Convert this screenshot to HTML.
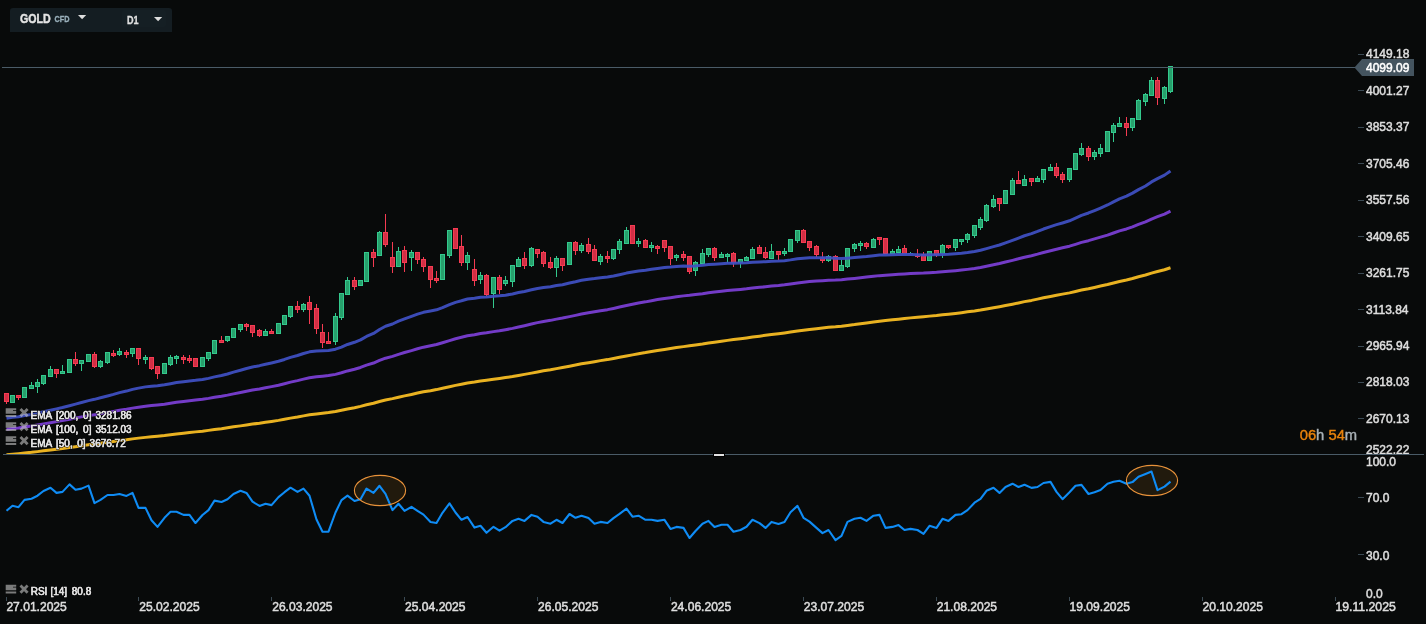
<!DOCTYPE html>
<html lang="en"><head><meta charset="utf-8"><title>GOLD CFD D1</title>
<style>
html,body{margin:0;padding:0;background:#080a0a;overflow:hidden}
body{width:1426px;height:624px;position:relative;font-family:"Liberation Sans",sans-serif}
svg{position:absolute;left:0;top:0;display:block;will-change:transform}
text{font-family:"Liberation Sans",sans-serif}
.ax{font-size:12px;fill:#dedede;stroke:#dedede;stroke-width:.5px}
.lg{font-size:10px;fill:#e6e6e6;stroke:#050505;stroke-width:1.5px;paint-order:stroke;stroke-linejoin:round}
.lg2{font-size:10px;fill:#e2e2e2;stroke:#e2e2e2;stroke-width:.5px}
</style></head><body>
<svg width="1426" height="624" viewBox="0 0 1426 624">

<g shape-rendering="crispEdges">
<rect x="6" y="393" width="1" height="11" fill="#f63b52"/>
<rect x="4" y="393" width="5" height="9" fill="#f63b52"/>
<rect x="5" y="394" width="3" height="7" fill="#d12f45"/>
<rect x="10" y="395" width="5" height="8" fill="#33c98d"/>
<rect x="11" y="396" width="3" height="6" fill="#27a06c"/>
<rect x="18" y="395" width="1" height="5" fill="#f63b52"/>
<rect x="16" y="395" width="5" height="3" fill="#f63b52"/>
<rect x="17" y="396" width="3" height="1" fill="#d12f45"/>
<rect x="22" y="387" width="5" height="11" fill="#33c98d"/>
<rect x="23" y="388" width="3" height="9" fill="#27a06c"/>
<rect x="31" y="382" width="1" height="7" fill="#33c98d"/>
<rect x="29" y="385" width="5" height="4" fill="#33c98d"/>
<rect x="30" y="386" width="3" height="2" fill="#27a06c"/>
<rect x="37" y="379" width="1" height="14" fill="#33c98d"/>
<rect x="35" y="382" width="5" height="5" fill="#33c98d"/>
<rect x="36" y="383" width="3" height="3" fill="#27a06c"/>
<rect x="43" y="375" width="1" height="10" fill="#33c98d"/>
<rect x="41" y="375" width="5" height="9" fill="#33c98d"/>
<rect x="42" y="376" width="3" height="7" fill="#27a06c"/>
<rect x="50" y="366" width="1" height="11" fill="#33c98d"/>
<rect x="48" y="369" width="5" height="8" fill="#33c98d"/>
<rect x="49" y="370" width="3" height="6" fill="#27a06c"/>
<rect x="56" y="369" width="1" height="9" fill="#f63b52"/>
<rect x="54" y="369" width="5" height="5" fill="#f63b52"/>
<rect x="55" y="370" width="3" height="3" fill="#d12f45"/>
<rect x="62" y="365" width="1" height="9" fill="#33c98d"/>
<rect x="60" y="371" width="5" height="3" fill="#33c98d"/>
<rect x="61" y="372" width="3" height="1" fill="#27a06c"/>
<rect x="67" y="359" width="5" height="14" fill="#33c98d"/>
<rect x="68" y="360" width="3" height="12" fill="#27a06c"/>
<rect x="75" y="352" width="1" height="14" fill="#f63b52"/>
<rect x="73" y="359" width="5" height="5" fill="#f63b52"/>
<rect x="74" y="360" width="3" height="3" fill="#d12f45"/>
<rect x="81" y="360" width="1" height="11" fill="#33c98d"/>
<rect x="79" y="360" width="5" height="4" fill="#33c98d"/>
<rect x="80" y="361" width="3" height="2" fill="#27a06c"/>
<rect x="86" y="354" width="5" height="8" fill="#33c98d"/>
<rect x="87" y="355" width="3" height="6" fill="#27a06c"/>
<rect x="94" y="352" width="1" height="16" fill="#f63b52"/>
<rect x="92" y="354" width="5" height="13" fill="#f63b52"/>
<rect x="93" y="355" width="3" height="11" fill="#d12f45"/>
<rect x="100" y="360" width="1" height="8" fill="#33c98d"/>
<rect x="98" y="361" width="5" height="6" fill="#33c98d"/>
<rect x="99" y="362" width="3" height="4" fill="#27a06c"/>
<rect x="107" y="352" width="1" height="12" fill="#33c98d"/>
<rect x="105" y="352" width="5" height="11" fill="#33c98d"/>
<rect x="106" y="353" width="3" height="9" fill="#27a06c"/>
<rect x="113" y="350" width="1" height="7" fill="#f63b52"/>
<rect x="111" y="353" width="5" height="3" fill="#f63b52"/>
<rect x="112" y="354" width="3" height="1" fill="#d12f45"/>
<rect x="119" y="348" width="1" height="8" fill="#33c98d"/>
<rect x="117" y="351" width="5" height="4" fill="#33c98d"/>
<rect x="118" y="352" width="3" height="2" fill="#27a06c"/>
<rect x="126" y="350" width="1" height="8" fill="#f63b52"/>
<rect x="124" y="352" width="5" height="3" fill="#f63b52"/>
<rect x="125" y="353" width="3" height="1" fill="#d12f45"/>
<rect x="132" y="348" width="1" height="9" fill="#33c98d"/>
<rect x="130" y="348" width="5" height="6" fill="#33c98d"/>
<rect x="131" y="349" width="3" height="4" fill="#27a06c"/>
<rect x="138" y="348" width="1" height="17" fill="#f63b52"/>
<rect x="136" y="348" width="5" height="11" fill="#f63b52"/>
<rect x="137" y="349" width="3" height="9" fill="#d12f45"/>
<rect x="145" y="355" width="1" height="9" fill="#33c98d"/>
<rect x="143" y="357" width="5" height="3" fill="#33c98d"/>
<rect x="144" y="358" width="3" height="1" fill="#27a06c"/>
<rect x="151" y="357" width="1" height="13" fill="#f63b52"/>
<rect x="149" y="357" width="5" height="12" fill="#f63b52"/>
<rect x="150" y="358" width="3" height="10" fill="#d12f45"/>
<rect x="157" y="366" width="1" height="13" fill="#f63b52"/>
<rect x="155" y="366" width="5" height="8" fill="#f63b52"/>
<rect x="156" y="367" width="3" height="6" fill="#d12f45"/>
<rect x="162" y="363" width="5" height="11" fill="#33c98d"/>
<rect x="163" y="364" width="3" height="9" fill="#27a06c"/>
<rect x="170" y="355" width="1" height="11" fill="#33c98d"/>
<rect x="168" y="357" width="5" height="8" fill="#33c98d"/>
<rect x="169" y="358" width="3" height="6" fill="#27a06c"/>
<rect x="176" y="355" width="1" height="9" fill="#33c98d"/>
<rect x="174" y="356" width="5" height="3" fill="#33c98d"/>
<rect x="175" y="357" width="3" height="1" fill="#27a06c"/>
<rect x="183" y="355" width="1" height="9" fill="#f63b52"/>
<rect x="181" y="357" width="5" height="3" fill="#f63b52"/>
<rect x="182" y="358" width="3" height="1" fill="#d12f45"/>
<rect x="189" y="355" width="1" height="8" fill="#f63b52"/>
<rect x="187" y="358" width="5" height="3" fill="#f63b52"/>
<rect x="188" y="359" width="3" height="1" fill="#d12f45"/>
<rect x="193" y="358" width="5" height="9" fill="#f63b52"/>
<rect x="194" y="359" width="3" height="7" fill="#d12f45"/>
<rect x="200" y="357" width="5" height="10" fill="#33c98d"/>
<rect x="201" y="358" width="3" height="8" fill="#27a06c"/>
<rect x="208" y="352" width="1" height="9" fill="#33c98d"/>
<rect x="206" y="352" width="5" height="7" fill="#33c98d"/>
<rect x="207" y="353" width="3" height="5" fill="#27a06c"/>
<rect x="212" y="340" width="5" height="14" fill="#33c98d"/>
<rect x="213" y="341" width="3" height="12" fill="#27a06c"/>
<rect x="221" y="336" width="1" height="7" fill="#f63b52"/>
<rect x="219" y="340" width="5" height="3" fill="#f63b52"/>
<rect x="220" y="341" width="3" height="1" fill="#d12f45"/>
<rect x="227" y="336" width="1" height="6" fill="#33c98d"/>
<rect x="225" y="336" width="5" height="5" fill="#33c98d"/>
<rect x="226" y="337" width="3" height="3" fill="#27a06c"/>
<rect x="231" y="328" width="5" height="10" fill="#33c98d"/>
<rect x="232" y="329" width="3" height="8" fill="#27a06c"/>
<rect x="240" y="324" width="1" height="8" fill="#33c98d"/>
<rect x="238" y="324" width="5" height="6" fill="#33c98d"/>
<rect x="239" y="325" width="3" height="4" fill="#27a06c"/>
<rect x="246" y="323" width="1" height="8" fill="#f63b52"/>
<rect x="244" y="324" width="5" height="3" fill="#f63b52"/>
<rect x="245" y="325" width="3" height="1" fill="#d12f45"/>
<rect x="252" y="325" width="1" height="12" fill="#f63b52"/>
<rect x="250" y="325" width="5" height="8" fill="#f63b52"/>
<rect x="251" y="326" width="3" height="6" fill="#d12f45"/>
<rect x="259" y="329" width="1" height="8" fill="#f63b52"/>
<rect x="257" y="330" width="5" height="6" fill="#f63b52"/>
<rect x="258" y="331" width="3" height="4" fill="#d12f45"/>
<rect x="265" y="329" width="1" height="7" fill="#33c98d"/>
<rect x="263" y="331" width="5" height="5" fill="#33c98d"/>
<rect x="264" y="332" width="3" height="3" fill="#27a06c"/>
<rect x="271" y="329" width="1" height="5" fill="#f63b52"/>
<rect x="269" y="331" width="5" height="3" fill="#f63b52"/>
<rect x="270" y="332" width="3" height="1" fill="#d12f45"/>
<rect x="276" y="323" width="5" height="11" fill="#33c98d"/>
<rect x="277" y="324" width="3" height="9" fill="#27a06c"/>
<rect x="282" y="315" width="5" height="10" fill="#33c98d"/>
<rect x="283" y="316" width="3" height="8" fill="#27a06c"/>
<rect x="290" y="306" width="1" height="12" fill="#33c98d"/>
<rect x="288" y="306" width="5" height="11" fill="#33c98d"/>
<rect x="289" y="307" width="3" height="9" fill="#27a06c"/>
<rect x="297" y="301" width="1" height="12" fill="#f63b52"/>
<rect x="295" y="306" width="5" height="4" fill="#f63b52"/>
<rect x="296" y="307" width="3" height="2" fill="#d12f45"/>
<rect x="303" y="303" width="1" height="9" fill="#33c98d"/>
<rect x="301" y="304" width="5" height="6" fill="#33c98d"/>
<rect x="302" y="305" width="3" height="4" fill="#27a06c"/>
<rect x="309" y="296" width="1" height="28" fill="#f63b52"/>
<rect x="307" y="302" width="5" height="8" fill="#f63b52"/>
<rect x="308" y="303" width="3" height="6" fill="#d12f45"/>
<rect x="316" y="304" width="1" height="30" fill="#f63b52"/>
<rect x="314" y="308" width="5" height="21" fill="#f63b52"/>
<rect x="315" y="309" width="3" height="19" fill="#d12f45"/>
<rect x="322" y="324" width="1" height="24" fill="#f63b52"/>
<rect x="320" y="332" width="5" height="11" fill="#f63b52"/>
<rect x="321" y="333" width="3" height="9" fill="#d12f45"/>
<rect x="328" y="332" width="1" height="12" fill="#f63b52"/>
<rect x="326" y="341" width="5" height="3" fill="#f63b52"/>
<rect x="327" y="342" width="3" height="1" fill="#d12f45"/>
<rect x="335" y="313" width="1" height="32" fill="#33c98d"/>
<rect x="333" y="316" width="5" height="26" fill="#33c98d"/>
<rect x="334" y="317" width="3" height="24" fill="#27a06c"/>
<rect x="341" y="293" width="1" height="27" fill="#33c98d"/>
<rect x="339" y="293" width="5" height="25" fill="#33c98d"/>
<rect x="340" y="294" width="3" height="23" fill="#27a06c"/>
<rect x="347" y="277" width="1" height="18" fill="#33c98d"/>
<rect x="345" y="280" width="5" height="15" fill="#33c98d"/>
<rect x="346" y="281" width="3" height="13" fill="#27a06c"/>
<rect x="354" y="277" width="1" height="13" fill="#f63b52"/>
<rect x="352" y="280" width="5" height="7" fill="#f63b52"/>
<rect x="353" y="281" width="3" height="5" fill="#d12f45"/>
<rect x="358" y="280" width="5" height="6" fill="#33c98d"/>
<rect x="359" y="281" width="3" height="4" fill="#27a06c"/>
<rect x="364" y="252" width="5" height="30" fill="#33c98d"/>
<rect x="365" y="253" width="3" height="28" fill="#27a06c"/>
<rect x="373" y="249" width="1" height="18" fill="#f63b52"/>
<rect x="371" y="252" width="5" height="6" fill="#f63b52"/>
<rect x="372" y="253" width="3" height="4" fill="#d12f45"/>
<rect x="379" y="231" width="1" height="25" fill="#33c98d"/>
<rect x="377" y="232" width="5" height="24" fill="#33c98d"/>
<rect x="378" y="233" width="3" height="22" fill="#27a06c"/>
<rect x="385" y="214" width="1" height="33" fill="#f63b52"/>
<rect x="383" y="232" width="5" height="13" fill="#f63b52"/>
<rect x="384" y="233" width="3" height="11" fill="#d12f45"/>
<rect x="392" y="242" width="1" height="31" fill="#f63b52"/>
<rect x="390" y="257" width="5" height="10" fill="#f63b52"/>
<rect x="391" y="258" width="3" height="8" fill="#d12f45"/>
<rect x="398" y="247" width="1" height="20" fill="#33c98d"/>
<rect x="396" y="251" width="5" height="16" fill="#33c98d"/>
<rect x="397" y="252" width="3" height="14" fill="#27a06c"/>
<rect x="404" y="246" width="1" height="26" fill="#f63b52"/>
<rect x="402" y="250" width="5" height="13" fill="#f63b52"/>
<rect x="403" y="251" width="3" height="11" fill="#d12f45"/>
<rect x="411" y="250" width="1" height="21" fill="#33c98d"/>
<rect x="409" y="252" width="5" height="6" fill="#33c98d"/>
<rect x="410" y="253" width="3" height="4" fill="#27a06c"/>
<rect x="417" y="252" width="1" height="12" fill="#f63b52"/>
<rect x="415" y="252" width="5" height="8" fill="#f63b52"/>
<rect x="416" y="253" width="3" height="6" fill="#d12f45"/>
<rect x="423" y="257" width="1" height="15" fill="#f63b52"/>
<rect x="421" y="259" width="5" height="8" fill="#f63b52"/>
<rect x="422" y="260" width="3" height="6" fill="#d12f45"/>
<rect x="430" y="266" width="1" height="22" fill="#f63b52"/>
<rect x="428" y="266" width="5" height="14" fill="#f63b52"/>
<rect x="429" y="267" width="3" height="12" fill="#d12f45"/>
<rect x="436" y="271" width="1" height="12" fill="#f63b52"/>
<rect x="434" y="278" width="5" height="3" fill="#f63b52"/>
<rect x="435" y="279" width="3" height="1" fill="#d12f45"/>
<rect x="440" y="254" width="5" height="26" fill="#33c98d"/>
<rect x="441" y="255" width="3" height="24" fill="#27a06c"/>
<rect x="449" y="230" width="1" height="28" fill="#33c98d"/>
<rect x="447" y="230" width="5" height="26" fill="#33c98d"/>
<rect x="448" y="231" width="3" height="24" fill="#27a06c"/>
<rect x="453" y="228" width="5" height="21" fill="#f63b52"/>
<rect x="454" y="229" width="3" height="19" fill="#d12f45"/>
<rect x="461" y="235" width="1" height="31" fill="#f63b52"/>
<rect x="459" y="246" width="5" height="17" fill="#f63b52"/>
<rect x="460" y="247" width="3" height="15" fill="#d12f45"/>
<rect x="467" y="252" width="1" height="18" fill="#33c98d"/>
<rect x="465" y="255" width="5" height="8" fill="#33c98d"/>
<rect x="466" y="256" width="3" height="6" fill="#27a06c"/>
<rect x="474" y="259" width="1" height="27" fill="#f63b52"/>
<rect x="472" y="269" width="5" height="12" fill="#f63b52"/>
<rect x="473" y="270" width="3" height="10" fill="#d12f45"/>
<rect x="480" y="272" width="1" height="12" fill="#33c98d"/>
<rect x="478" y="275" width="5" height="5" fill="#33c98d"/>
<rect x="479" y="276" width="3" height="3" fill="#27a06c"/>
<rect x="486" y="274" width="1" height="22" fill="#f63b52"/>
<rect x="484" y="275" width="5" height="20" fill="#f63b52"/>
<rect x="485" y="276" width="3" height="18" fill="#d12f45"/>
<rect x="493" y="277" width="1" height="31" fill="#33c98d"/>
<rect x="491" y="277" width="5" height="17" fill="#33c98d"/>
<rect x="492" y="278" width="3" height="15" fill="#27a06c"/>
<rect x="499" y="275" width="1" height="19" fill="#f63b52"/>
<rect x="497" y="277" width="5" height="13" fill="#f63b52"/>
<rect x="498" y="278" width="3" height="11" fill="#d12f45"/>
<rect x="505" y="276" width="1" height="10" fill="#33c98d"/>
<rect x="503" y="280" width="5" height="4" fill="#33c98d"/>
<rect x="504" y="281" width="3" height="2" fill="#27a06c"/>
<rect x="512" y="265" width="1" height="22" fill="#33c98d"/>
<rect x="510" y="265" width="5" height="17" fill="#33c98d"/>
<rect x="511" y="266" width="3" height="15" fill="#27a06c"/>
<rect x="518" y="257" width="1" height="10" fill="#33c98d"/>
<rect x="516" y="259" width="5" height="8" fill="#33c98d"/>
<rect x="517" y="260" width="3" height="6" fill="#27a06c"/>
<rect x="524" y="252" width="1" height="17" fill="#f63b52"/>
<rect x="522" y="258" width="5" height="8" fill="#f63b52"/>
<rect x="523" y="259" width="3" height="6" fill="#d12f45"/>
<rect x="531" y="247" width="1" height="20" fill="#33c98d"/>
<rect x="529" y="248" width="5" height="18" fill="#33c98d"/>
<rect x="530" y="249" width="3" height="16" fill="#27a06c"/>
<rect x="537" y="249" width="1" height="9" fill="#f63b52"/>
<rect x="535" y="249" width="5" height="5" fill="#f63b52"/>
<rect x="536" y="250" width="3" height="3" fill="#d12f45"/>
<rect x="543" y="251" width="1" height="16" fill="#f63b52"/>
<rect x="541" y="252" width="5" height="12" fill="#f63b52"/>
<rect x="542" y="253" width="3" height="10" fill="#d12f45"/>
<rect x="550" y="257" width="1" height="12" fill="#f63b52"/>
<rect x="548" y="262" width="5" height="6" fill="#f63b52"/>
<rect x="549" y="263" width="3" height="4" fill="#d12f45"/>
<rect x="556" y="256" width="1" height="21" fill="#33c98d"/>
<rect x="554" y="258" width="5" height="10" fill="#33c98d"/>
<rect x="555" y="259" width="3" height="8" fill="#27a06c"/>
<rect x="562" y="258" width="1" height="13" fill="#f63b52"/>
<rect x="560" y="258" width="5" height="8" fill="#f63b52"/>
<rect x="561" y="259" width="3" height="6" fill="#d12f45"/>
<rect x="567" y="242" width="5" height="23" fill="#33c98d"/>
<rect x="568" y="243" width="3" height="21" fill="#27a06c"/>
<rect x="575" y="241" width="1" height="14" fill="#f63b52"/>
<rect x="573" y="242" width="5" height="9" fill="#f63b52"/>
<rect x="574" y="243" width="3" height="7" fill="#d12f45"/>
<rect x="581" y="243" width="1" height="10" fill="#33c98d"/>
<rect x="579" y="245" width="5" height="6" fill="#33c98d"/>
<rect x="580" y="246" width="3" height="4" fill="#27a06c"/>
<rect x="588" y="238" width="1" height="16" fill="#f63b52"/>
<rect x="586" y="244" width="5" height="8" fill="#f63b52"/>
<rect x="587" y="245" width="3" height="6" fill="#d12f45"/>
<rect x="594" y="245" width="1" height="16" fill="#f63b52"/>
<rect x="592" y="249" width="5" height="12" fill="#f63b52"/>
<rect x="593" y="250" width="3" height="10" fill="#d12f45"/>
<rect x="600" y="254" width="1" height="11" fill="#33c98d"/>
<rect x="598" y="256" width="5" height="6" fill="#33c98d"/>
<rect x="599" y="257" width="3" height="4" fill="#27a06c"/>
<rect x="607" y="251" width="1" height="12" fill="#f63b52"/>
<rect x="605" y="256" width="5" height="3" fill="#f63b52"/>
<rect x="606" y="257" width="3" height="1" fill="#d12f45"/>
<rect x="613" y="249" width="1" height="11" fill="#33c98d"/>
<rect x="611" y="249" width="5" height="10" fill="#33c98d"/>
<rect x="612" y="250" width="3" height="8" fill="#27a06c"/>
<rect x="619" y="239" width="1" height="15" fill="#33c98d"/>
<rect x="617" y="241" width="5" height="9" fill="#33c98d"/>
<rect x="618" y="242" width="3" height="7" fill="#27a06c"/>
<rect x="626" y="227" width="1" height="17" fill="#33c98d"/>
<rect x="624" y="230" width="5" height="14" fill="#33c98d"/>
<rect x="625" y="231" width="3" height="12" fill="#27a06c"/>
<rect x="630" y="225" width="5" height="19" fill="#f63b52"/>
<rect x="631" y="226" width="3" height="17" fill="#d12f45"/>
<rect x="638" y="238" width="1" height="9" fill="#33c98d"/>
<rect x="636" y="241" width="5" height="3" fill="#33c98d"/>
<rect x="637" y="242" width="3" height="1" fill="#27a06c"/>
<rect x="645" y="239" width="1" height="9" fill="#f63b52"/>
<rect x="643" y="240" width="5" height="8" fill="#f63b52"/>
<rect x="644" y="241" width="3" height="6" fill="#d12f45"/>
<rect x="651" y="242" width="1" height="10" fill="#33c98d"/>
<rect x="649" y="245" width="5" height="3" fill="#33c98d"/>
<rect x="650" y="246" width="3" height="1" fill="#27a06c"/>
<rect x="657" y="245" width="1" height="9" fill="#f63b52"/>
<rect x="655" y="246" width="5" height="3" fill="#f63b52"/>
<rect x="656" y="247" width="3" height="1" fill="#d12f45"/>
<rect x="664" y="240" width="1" height="12" fill="#f63b52"/>
<rect x="662" y="240" width="5" height="8" fill="#f63b52"/>
<rect x="663" y="241" width="3" height="6" fill="#d12f45"/>
<rect x="670" y="246" width="1" height="19" fill="#f63b52"/>
<rect x="668" y="246" width="5" height="13" fill="#f63b52"/>
<rect x="669" y="247" width="3" height="11" fill="#d12f45"/>
<rect x="676" y="254" width="1" height="7" fill="#33c98d"/>
<rect x="674" y="255" width="5" height="3" fill="#33c98d"/>
<rect x="675" y="256" width="3" height="1" fill="#27a06c"/>
<rect x="683" y="251" width="1" height="10" fill="#f63b52"/>
<rect x="681" y="254" width="5" height="4" fill="#f63b52"/>
<rect x="682" y="255" width="3" height="2" fill="#d12f45"/>
<rect x="689" y="256" width="1" height="18" fill="#f63b52"/>
<rect x="687" y="256" width="5" height="16" fill="#f63b52"/>
<rect x="688" y="257" width="3" height="14" fill="#d12f45"/>
<rect x="695" y="261" width="1" height="15" fill="#33c98d"/>
<rect x="693" y="262" width="5" height="9" fill="#33c98d"/>
<rect x="694" y="263" width="3" height="7" fill="#27a06c"/>
<rect x="702" y="249" width="1" height="15" fill="#33c98d"/>
<rect x="700" y="253" width="5" height="11" fill="#33c98d"/>
<rect x="701" y="254" width="3" height="9" fill="#27a06c"/>
<rect x="708" y="248" width="1" height="9" fill="#33c98d"/>
<rect x="706" y="248" width="5" height="7" fill="#33c98d"/>
<rect x="707" y="249" width="3" height="5" fill="#27a06c"/>
<rect x="714" y="247" width="1" height="14" fill="#f63b52"/>
<rect x="712" y="248" width="5" height="10" fill="#f63b52"/>
<rect x="713" y="249" width="3" height="8" fill="#d12f45"/>
<rect x="721" y="252" width="1" height="6" fill="#33c98d"/>
<rect x="719" y="254" width="5" height="4" fill="#33c98d"/>
<rect x="720" y="255" width="3" height="2" fill="#27a06c"/>
<rect x="727" y="253" width="1" height="10" fill="#33c98d"/>
<rect x="725" y="254" width="5" height="3" fill="#33c98d"/>
<rect x="726" y="255" width="3" height="1" fill="#27a06c"/>
<rect x="733" y="252" width="1" height="15" fill="#f63b52"/>
<rect x="731" y="253" width="5" height="10" fill="#f63b52"/>
<rect x="732" y="254" width="3" height="8" fill="#d12f45"/>
<rect x="740" y="259" width="1" height="9" fill="#33c98d"/>
<rect x="738" y="259" width="5" height="4" fill="#33c98d"/>
<rect x="739" y="260" width="3" height="2" fill="#27a06c"/>
<rect x="746" y="256" width="1" height="5" fill="#33c98d"/>
<rect x="744" y="257" width="5" height="4" fill="#33c98d"/>
<rect x="745" y="258" width="3" height="2" fill="#27a06c"/>
<rect x="752" y="247" width="1" height="12" fill="#33c98d"/>
<rect x="750" y="249" width="5" height="10" fill="#33c98d"/>
<rect x="751" y="250" width="3" height="8" fill="#27a06c"/>
<rect x="759" y="245" width="1" height="9" fill="#f63b52"/>
<rect x="757" y="247" width="5" height="7" fill="#f63b52"/>
<rect x="758" y="248" width="3" height="5" fill="#d12f45"/>
<rect x="765" y="247" width="1" height="12" fill="#f63b52"/>
<rect x="763" y="252" width="5" height="6" fill="#f63b52"/>
<rect x="764" y="253" width="3" height="4" fill="#d12f45"/>
<rect x="771" y="244" width="1" height="15" fill="#33c98d"/>
<rect x="769" y="251" width="5" height="8" fill="#33c98d"/>
<rect x="770" y="252" width="3" height="6" fill="#27a06c"/>
<rect x="778" y="251" width="1" height="9" fill="#f63b52"/>
<rect x="776" y="251" width="5" height="4" fill="#f63b52"/>
<rect x="777" y="252" width="3" height="2" fill="#d12f45"/>
<rect x="784" y="248" width="1" height="8" fill="#33c98d"/>
<rect x="782" y="251" width="5" height="3" fill="#33c98d"/>
<rect x="783" y="252" width="3" height="1" fill="#27a06c"/>
<rect x="788" y="239" width="5" height="13" fill="#33c98d"/>
<rect x="789" y="240" width="3" height="11" fill="#27a06c"/>
<rect x="797" y="230" width="1" height="13" fill="#33c98d"/>
<rect x="795" y="230" width="5" height="11" fill="#33c98d"/>
<rect x="796" y="231" width="3" height="9" fill="#27a06c"/>
<rect x="803" y="229" width="1" height="14" fill="#f63b52"/>
<rect x="801" y="230" width="5" height="13" fill="#f63b52"/>
<rect x="802" y="231" width="3" height="11" fill="#d12f45"/>
<rect x="809" y="241" width="1" height="10" fill="#f63b52"/>
<rect x="807" y="241" width="5" height="7" fill="#f63b52"/>
<rect x="808" y="242" width="3" height="5" fill="#d12f45"/>
<rect x="816" y="245" width="1" height="12" fill="#f63b52"/>
<rect x="814" y="246" width="5" height="9" fill="#f63b52"/>
<rect x="815" y="247" width="3" height="7" fill="#d12f45"/>
<rect x="822" y="252" width="1" height="11" fill="#f63b52"/>
<rect x="820" y="257" width="5" height="4" fill="#f63b52"/>
<rect x="821" y="258" width="3" height="2" fill="#d12f45"/>
<rect x="828" y="255" width="1" height="7" fill="#33c98d"/>
<rect x="826" y="256" width="5" height="5" fill="#33c98d"/>
<rect x="827" y="257" width="3" height="3" fill="#27a06c"/>
<rect x="835" y="255" width="1" height="16" fill="#f63b52"/>
<rect x="833" y="256" width="5" height="15" fill="#f63b52"/>
<rect x="834" y="257" width="3" height="13" fill="#d12f45"/>
<rect x="841" y="260" width="1" height="11" fill="#33c98d"/>
<rect x="839" y="265" width="5" height="6" fill="#33c98d"/>
<rect x="840" y="266" width="3" height="4" fill="#27a06c"/>
<rect x="847" y="248" width="1" height="20" fill="#33c98d"/>
<rect x="845" y="248" width="5" height="19" fill="#33c98d"/>
<rect x="846" y="249" width="3" height="17" fill="#27a06c"/>
<rect x="854" y="243" width="1" height="9" fill="#33c98d"/>
<rect x="852" y="244" width="5" height="5" fill="#33c98d"/>
<rect x="853" y="245" width="3" height="3" fill="#27a06c"/>
<rect x="860" y="241" width="1" height="10" fill="#33c98d"/>
<rect x="858" y="243" width="5" height="3" fill="#33c98d"/>
<rect x="859" y="244" width="3" height="1" fill="#27a06c"/>
<rect x="866" y="242" width="1" height="7" fill="#f63b52"/>
<rect x="864" y="243" width="5" height="4" fill="#f63b52"/>
<rect x="865" y="244" width="3" height="2" fill="#d12f45"/>
<rect x="873" y="238" width="1" height="10" fill="#33c98d"/>
<rect x="871" y="239" width="5" height="9" fill="#33c98d"/>
<rect x="872" y="240" width="3" height="7" fill="#27a06c"/>
<rect x="879" y="237" width="1" height="8" fill="#f63b52"/>
<rect x="877" y="237" width="5" height="3" fill="#f63b52"/>
<rect x="878" y="238" width="3" height="1" fill="#d12f45"/>
<rect x="883" y="238" width="5" height="16" fill="#f63b52"/>
<rect x="884" y="239" width="3" height="14" fill="#d12f45"/>
<rect x="892" y="249" width="1" height="5" fill="#33c98d"/>
<rect x="890" y="251" width="5" height="3" fill="#33c98d"/>
<rect x="891" y="252" width="3" height="1" fill="#27a06c"/>
<rect x="898" y="246" width="1" height="7" fill="#33c98d"/>
<rect x="896" y="249" width="5" height="4" fill="#33c98d"/>
<rect x="897" y="250" width="3" height="2" fill="#27a06c"/>
<rect x="904" y="245" width="1" height="9" fill="#f63b52"/>
<rect x="902" y="248" width="5" height="6" fill="#f63b52"/>
<rect x="903" y="249" width="3" height="4" fill="#d12f45"/>
<rect x="910" y="252" width="1" height="2" fill="#33c98d"/>
<rect x="908" y="253" width="5" height="1" fill="#33c98d"/>
<rect x="917" y="249" width="1" height="9" fill="#f63b52"/>
<rect x="915" y="256" width="5" height="1" fill="#f63b52"/>
<rect x="923" y="252" width="1" height="9" fill="#f63b52"/>
<rect x="921" y="254" width="5" height="7" fill="#f63b52"/>
<rect x="922" y="255" width="3" height="5" fill="#d12f45"/>
<rect x="927" y="251" width="5" height="10" fill="#33c98d"/>
<rect x="928" y="252" width="3" height="8" fill="#27a06c"/>
<rect x="936" y="250" width="1" height="7" fill="#f63b52"/>
<rect x="934" y="250" width="5" height="5" fill="#f63b52"/>
<rect x="935" y="251" width="3" height="3" fill="#d12f45"/>
<rect x="942" y="244" width="1" height="14" fill="#33c98d"/>
<rect x="940" y="245" width="5" height="9" fill="#33c98d"/>
<rect x="941" y="246" width="3" height="7" fill="#27a06c"/>
<rect x="948" y="245" width="1" height="4" fill="#f63b52"/>
<rect x="946" y="245" width="5" height="3" fill="#f63b52"/>
<rect x="947" y="246" width="3" height="1" fill="#d12f45"/>
<rect x="955" y="239" width="1" height="12" fill="#33c98d"/>
<rect x="953" y="239" width="5" height="9" fill="#33c98d"/>
<rect x="954" y="240" width="3" height="7" fill="#27a06c"/>
<rect x="961" y="239" width="1" height="6" fill="#33c98d"/>
<rect x="959" y="239" width="5" height="3" fill="#33c98d"/>
<rect x="960" y="240" width="3" height="1" fill="#27a06c"/>
<rect x="967" y="233" width="1" height="10" fill="#33c98d"/>
<rect x="965" y="234" width="5" height="6" fill="#33c98d"/>
<rect x="966" y="235" width="3" height="4" fill="#27a06c"/>
<rect x="974" y="225" width="1" height="13" fill="#33c98d"/>
<rect x="972" y="225" width="5" height="11" fill="#33c98d"/>
<rect x="973" y="226" width="3" height="9" fill="#27a06c"/>
<rect x="980" y="217" width="1" height="13" fill="#33c98d"/>
<rect x="978" y="219" width="5" height="9" fill="#33c98d"/>
<rect x="979" y="220" width="3" height="7" fill="#27a06c"/>
<rect x="986" y="204" width="1" height="18" fill="#33c98d"/>
<rect x="984" y="205" width="5" height="16" fill="#33c98d"/>
<rect x="985" y="206" width="3" height="14" fill="#27a06c"/>
<rect x="993" y="195" width="1" height="13" fill="#33c98d"/>
<rect x="991" y="199" width="5" height="8" fill="#33c98d"/>
<rect x="992" y="200" width="3" height="6" fill="#27a06c"/>
<rect x="999" y="198" width="1" height="13" fill="#f63b52"/>
<rect x="997" y="198" width="5" height="6" fill="#f63b52"/>
<rect x="998" y="199" width="3" height="4" fill="#d12f45"/>
<rect x="1003" y="190" width="5" height="14" fill="#33c98d"/>
<rect x="1004" y="191" width="3" height="12" fill="#27a06c"/>
<rect x="1012" y="178" width="1" height="17" fill="#33c98d"/>
<rect x="1010" y="180" width="5" height="15" fill="#33c98d"/>
<rect x="1011" y="181" width="3" height="13" fill="#27a06c"/>
<rect x="1018" y="171" width="1" height="13" fill="#f63b52"/>
<rect x="1016" y="180" width="5" height="4" fill="#f63b52"/>
<rect x="1017" y="181" width="3" height="2" fill="#d12f45"/>
<rect x="1024" y="175" width="1" height="11" fill="#33c98d"/>
<rect x="1022" y="179" width="5" height="7" fill="#33c98d"/>
<rect x="1023" y="180" width="3" height="5" fill="#27a06c"/>
<rect x="1031" y="178" width="1" height="8" fill="#f63b52"/>
<rect x="1029" y="178" width="5" height="4" fill="#f63b52"/>
<rect x="1030" y="179" width="3" height="2" fill="#d12f45"/>
<rect x="1037" y="176" width="1" height="6" fill="#33c98d"/>
<rect x="1035" y="178" width="5" height="4" fill="#33c98d"/>
<rect x="1036" y="179" width="3" height="2" fill="#27a06c"/>
<rect x="1043" y="169" width="1" height="14" fill="#33c98d"/>
<rect x="1041" y="169" width="5" height="11" fill="#33c98d"/>
<rect x="1042" y="170" width="3" height="9" fill="#27a06c"/>
<rect x="1050" y="164" width="1" height="7" fill="#33c98d"/>
<rect x="1048" y="167" width="5" height="4" fill="#33c98d"/>
<rect x="1049" y="168" width="3" height="2" fill="#27a06c"/>
<rect x="1056" y="163" width="1" height="15" fill="#f63b52"/>
<rect x="1054" y="167" width="5" height="9" fill="#f63b52"/>
<rect x="1055" y="168" width="3" height="7" fill="#d12f45"/>
<rect x="1062" y="172" width="1" height="11" fill="#f63b52"/>
<rect x="1060" y="174" width="5" height="6" fill="#f63b52"/>
<rect x="1061" y="175" width="3" height="4" fill="#d12f45"/>
<rect x="1069" y="168" width="1" height="14" fill="#33c98d"/>
<rect x="1067" y="168" width="5" height="12" fill="#33c98d"/>
<rect x="1068" y="169" width="3" height="10" fill="#27a06c"/>
<rect x="1073" y="153" width="5" height="17" fill="#33c98d"/>
<rect x="1074" y="154" width="3" height="15" fill="#27a06c"/>
<rect x="1081" y="143" width="1" height="13" fill="#33c98d"/>
<rect x="1079" y="148" width="5" height="7" fill="#33c98d"/>
<rect x="1080" y="149" width="3" height="5" fill="#27a06c"/>
<rect x="1088" y="146" width="1" height="15" fill="#f63b52"/>
<rect x="1086" y="148" width="5" height="9" fill="#f63b52"/>
<rect x="1087" y="149" width="3" height="7" fill="#d12f45"/>
<rect x="1094" y="150" width="1" height="10" fill="#33c98d"/>
<rect x="1092" y="152" width="5" height="5" fill="#33c98d"/>
<rect x="1093" y="153" width="3" height="3" fill="#27a06c"/>
<rect x="1100" y="144" width="1" height="13" fill="#33c98d"/>
<rect x="1098" y="148" width="5" height="6" fill="#33c98d"/>
<rect x="1099" y="149" width="3" height="4" fill="#27a06c"/>
<rect x="1105" y="131" width="5" height="21" fill="#33c98d"/>
<rect x="1106" y="132" width="3" height="19" fill="#27a06c"/>
<rect x="1113" y="123" width="1" height="19" fill="#33c98d"/>
<rect x="1111" y="125" width="5" height="8" fill="#33c98d"/>
<rect x="1112" y="126" width="3" height="6" fill="#27a06c"/>
<rect x="1119" y="117" width="1" height="10" fill="#33c98d"/>
<rect x="1117" y="123" width="5" height="4" fill="#33c98d"/>
<rect x="1118" y="124" width="3" height="2" fill="#27a06c"/>
<rect x="1126" y="117" width="1" height="19" fill="#f63b52"/>
<rect x="1124" y="123" width="5" height="5" fill="#f63b52"/>
<rect x="1125" y="124" width="3" height="3" fill="#d12f45"/>
<rect x="1132" y="118" width="1" height="13" fill="#33c98d"/>
<rect x="1130" y="118" width="5" height="10" fill="#33c98d"/>
<rect x="1131" y="119" width="3" height="8" fill="#27a06c"/>
<rect x="1138" y="99" width="1" height="21" fill="#33c98d"/>
<rect x="1136" y="100" width="5" height="20" fill="#33c98d"/>
<rect x="1137" y="101" width="3" height="18" fill="#27a06c"/>
<rect x="1145" y="93" width="1" height="13" fill="#33c98d"/>
<rect x="1143" y="94" width="5" height="8" fill="#33c98d"/>
<rect x="1144" y="95" width="3" height="6" fill="#27a06c"/>
<rect x="1151" y="77" width="1" height="19" fill="#33c98d"/>
<rect x="1149" y="80" width="5" height="16" fill="#33c98d"/>
<rect x="1150" y="81" width="3" height="14" fill="#27a06c"/>
<rect x="1157" y="77" width="1" height="28" fill="#f63b52"/>
<rect x="1155" y="80" width="5" height="18" fill="#f63b52"/>
<rect x="1156" y="81" width="3" height="16" fill="#d12f45"/>
<rect x="1164" y="86" width="1" height="18" fill="#33c98d"/>
<rect x="1162" y="87" width="5" height="12" fill="#33c98d"/>
<rect x="1163" y="88" width="3" height="10" fill="#27a06c"/>
<rect x="1170" y="66" width="1" height="27" fill="#33c98d"/>
<rect x="1168" y="66" width="5" height="26" fill="#33c98d"/>
<rect x="1169" y="67" width="3" height="24" fill="#27a06c"/>
</g>
<clipPath id="mp"><rect x="0" y="0" width="1356" height="454"/></clipPath>
<g clip-path="url(#mp)">
<polyline points="6.5,454.77 12.5,454.19 18.5,453.64 24.5,452.99 31.5,452.33 37.5,451.63 43.5,450.86 50.5,450.03 56.5,449.25 62.5,448.44 69.5,447.52 75.5,446.66 81.5,445.77 88.5,444.83 94.5,444.04 100.5,443.21 107.5,442.30 113.5,441.45 119.5,440.56 126.5,439.74 132.5,438.87 138.5,438.12 145.5,437.37 151.5,436.73 157.5,436.15 164.5,435.47 170.5,434.72 176.5,433.95 183.5,433.23 189.5,432.53 195.5,431.88 202.5,431.15 208.5,430.38 214.5,429.51 221.5,428.69 227.5,427.80 233.5,426.85 240.5,425.88 246.5,424.94 252.5,424.06 259.5,423.21 265.5,422.30 271.5,421.40 278.5,420.38 284.5,419.29 290.5,418.12 297.5,417.00 303.5,415.86 309.5,414.79 316.5,413.92 322.5,413.21 328.5,412.51 335.5,411.53 341.5,410.32 347.5,408.98 354.5,407.70 360.5,406.38 366.5,404.79 373.5,403.28 379.5,401.55 385.5,399.98 392.5,398.65 398.5,397.19 404.5,395.86 411.5,394.42 417.5,393.08 423.5,391.82 430.5,390.70 436.5,389.60 442.5,388.26 449.5,386.69 455.5,385.35 461.5,384.16 467.5,382.92 474.5,381.98 480.5,380.99 486.5,380.21 493.5,379.28 499.5,378.48 505.5,377.58 512.5,376.54 518.5,375.42 524.5,374.36 531.5,373.13 537.5,371.94 543.5,370.85 550.5,369.79 556.5,368.63 562.5,367.56 569.5,366.24 575.5,365.05 581.5,363.82 588.5,362.68 594.5,361.66 600.5,360.61 607.5,359.60 613.5,358.49 619.5,357.31 626.5,356.01 632.5,354.86 638.5,353.69 645.5,352.60 651.5,351.50 657.5,350.45 664.5,349.41 670.5,348.49 676.5,347.54 683.5,346.62 689.5,345.84 695.5,344.98 702.5,344.03 708.5,343.04 714.5,342.17 721.5,341.28 727.5,340.39 733.5,339.60 740.5,338.77 746.5,337.93 752.5,337.02 759.5,336.16 765.5,335.36 771.5,334.50 778.5,333.71 784.5,332.90 790.5,331.98 797.5,331.01 803.5,330.17 809.5,329.39 816.5,328.69 822.5,328.04 828.5,327.35 835.5,326.81 841.5,326.20 847.5,325.42 854.5,324.60 860.5,323.76 866.5,322.97 873.5,322.10 879.5,321.26 885.5,320.57 892.5,319.86 898.5,319.16 904.5,318.52 910.5,317.88 917.5,317.30 923.5,316.76 929.5,316.12 936.5,315.52 942.5,314.82 948.5,314.15 955.5,313.39 961.5,312.64 967.5,311.84 974.5,310.95 980.5,310.01 986.5,308.92 993.5,307.78 999.5,306.69 1005.5,305.48 1012.5,304.17 1018.5,302.92 1024.5,301.64 1031.5,300.40 1037.5,299.14 1043.5,297.81 1050.5,296.48 1056.5,295.26 1062.5,294.11 1069.5,292.86 1075.5,291.48 1081.5,290.07 1088.5,288.77 1094.5,287.42 1100.5,286.05 1107.5,284.53 1113.5,282.98 1119.5,281.43 1126.5,279.98 1132.5,278.44 1138.5,276.74 1145.5,275.03 1151.5,273.17 1157.5,271.50 1164.5,269.74 1170.5,267.77" fill="none" stroke="#fbbf24" stroke-width="3" stroke-linejoin="round" stroke-linecap="butt" opacity="0.93"/>
<polyline points="6.5,429.34 12.5,428.61 18.5,427.94 24.5,427.04 31.5,426.08 37.5,425.08 43.5,423.95 50.5,422.70 56.5,421.61 62.5,420.50 69.5,419.19 75.5,418.04 81.5,416.86 88.5,415.61 94.5,414.67 100.5,413.64 107.5,412.48 113.5,411.42 119.5,410.29 126.5,409.28 132.5,408.13 138.5,407.21 145.5,406.27 151.5,405.56 157.5,404.97 164.5,404.16 170.5,403.25 176.5,402.33 183.5,401.52 189.5,400.74 195.5,400.10 202.5,399.29 208.5,398.39 214.5,397.28 221.5,396.27 227.5,395.14 233.5,393.86 240.5,392.52 246.5,391.25 252.5,390.09 259.5,388.98 265.5,387.77 271.5,386.62 278.5,385.24 284.5,383.75 290.5,382.13 297.5,380.63 303.5,379.09 309.5,377.72 316.5,376.78 322.5,376.14 328.5,375.54 335.5,374.38 341.5,372.78 347.5,370.92 354.5,369.23 360.5,367.44 366.5,365.13 373.5,363.02 379.5,360.44 385.5,358.18 392.5,356.41 398.5,354.35 404.5,352.56 411.5,350.58 417.5,348.78 423.5,347.16 430.5,345.83 436.5,344.56 442.5,342.78 449.5,340.57 455.5,338.79 461.5,337.32 467.5,335.72 474.5,334.66 480.5,333.49 486.5,332.73 493.5,331.61 499.5,330.76 505.5,329.71 512.5,328.37 518.5,326.93 524.5,325.66 531.5,324.05 537.5,322.62 543.5,321.42 550.5,320.35 556.5,319.12 562.5,318.09 569.5,316.62 575.5,315.35 581.5,313.99 588.5,312.78 594.5,311.77 600.5,310.68 607.5,309.65 613.5,308.43 619.5,307.08 626.5,305.52 632.5,304.27 638.5,302.98 645.5,301.85 651.5,300.67 657.5,299.60 664.5,298.50 670.5,297.65 676.5,296.73 683.5,295.88 689.5,295.33 695.5,294.60 702.5,293.72 708.5,292.77 714.5,292.06 721.5,291.29 727.5,290.55 733.5,290.00 740.5,289.41 746.5,288.78 752.5,288.01 759.5,287.36 765.5,286.79 771.5,286.10 778.5,285.50 784.5,284.84 790.5,283.95 797.5,282.92 803.5,282.16 809.5,281.52 816.5,281.03 822.5,280.66 828.5,280.20 835.5,280.03 841.5,279.73 847.5,279.10 854.5,278.39 860.5,277.68 866.5,277.07 873.5,276.33 879.5,275.63 885.5,275.23 892.5,274.79 898.5,274.32 904.5,273.96 910.5,273.58 917.5,273.28 923.5,273.06 929.5,272.64 936.5,272.30 942.5,271.77 948.5,271.32 955.5,270.70 961.5,270.09 967.5,269.38 974.5,268.49 980.5,267.49 986.5,266.21 993.5,264.82 999.5,263.55 1005.5,262.03 1012.5,260.34 1018.5,258.79 1024.5,257.18 1031.5,255.68 1037.5,254.14 1043.5,252.44 1050.5,250.73 1056.5,249.22 1062.5,247.81 1069.5,246.19 1075.5,244.31 1081.5,242.37 1088.5,240.67 1094.5,238.93 1100.5,237.16 1107.5,235.11 1113.5,233.00 1119.5,230.90 1126.5,228.96 1132.5,226.84 1138.5,224.39 1145.5,221.86 1151.5,219.07 1157.5,216.67 1164.5,214.09 1170.5,211.14" fill="none" stroke="#7c3fd6" stroke-width="3" stroke-linejoin="round" stroke-linecap="butt" opacity="0.93"/>
<polyline points="6.5,418.23 12.5,417.37 18.5,416.66 24.5,415.57 31.5,414.45 37.5,413.25 43.5,411.82 50.5,410.22 56.5,408.88 62.5,407.48 69.5,405.68 75.5,404.13 81.5,402.48 88.5,400.63 94.5,399.33 100.5,397.82 107.5,395.98 113.5,394.37 119.5,392.61 126.5,391.08 132.5,389.35 138.5,388.13 145.5,386.88 151.5,386.17 157.5,385.68 164.5,384.78 170.5,383.69 176.5,382.60 183.5,381.71 189.5,380.90 195.5,380.35 202.5,379.44 208.5,378.37 214.5,376.87 221.5,375.55 227.5,373.99 233.5,372.16 240.5,370.22 246.5,368.46 252.5,366.99 259.5,365.66 265.5,364.21 271.5,362.94 278.5,361.30 284.5,359.45 290.5,357.34 297.5,355.50 303.5,353.50 309.5,351.83 316.5,350.99 322.5,350.72 328.5,350.51 335.5,349.21 341.5,347.06 347.5,344.48 354.5,342.28 360.5,339.88 366.5,336.48 373.5,333.47 379.5,329.54 385.5,326.28 392.5,324.01 398.5,321.20 404.5,318.96 411.5,316.36 417.5,314.16 423.5,312.31 430.5,311.03 436.5,309.84 442.5,307.63 449.5,304.57 455.5,302.37 461.5,300.80 467.5,298.96 474.5,298.18 480.5,297.20 486.5,297.03 493.5,296.15 499.5,295.84 505.5,295.16 512.5,293.94 518.5,292.55 524.5,291.51 531.5,289.81 537.5,288.42 543.5,287.47 550.5,286.70 556.5,285.56 562.5,284.77 569.5,283.07 575.5,281.78 581.5,280.32 588.5,279.21 594.5,278.51 600.5,277.66 607.5,277.00 613.5,275.99 619.5,274.72 626.5,273.10 632.5,272.08 638.5,270.97 645.5,270.16 651.5,269.21 657.5,268.41 664.5,267.54 670.5,267.11 676.5,266.52 683.5,266.04 689.5,266.15 695.5,265.88 702.5,265.27 708.5,264.52 714.5,264.21 721.5,263.75 727.5,263.32 733.5,263.27 740.5,263.06 746.5,262.80 752.5,262.23 759.5,261.90 765.5,261.74 771.5,261.32 778.5,261.08 784.5,260.70 790.5,259.87 797.5,258.73 803.5,258.14 809.5,257.78 816.5,257.71 822.5,257.86 828.5,257.81 835.5,258.33 841.5,258.58 847.5,258.14 854.5,257.54 860.5,256.92 866.5,256.47 873.5,255.72 879.5,255.06 885.5,254.98 892.5,254.81 898.5,254.58 904.5,254.57 910.5,254.52 917.5,254.63 923.5,254.89 929.5,254.74 936.5,254.77 942.5,254.42 948.5,254.22 955.5,253.70 961.5,253.20 967.5,252.52 974.5,251.52 980.5,250.31 986.5,248.58 993.5,246.66 999.5,245.00 1005.5,242.83 1012.5,240.34 1018.5,238.09 1024.5,235.75 1031.5,233.62 1037.5,231.44 1043.5,229.02 1050.5,226.63 1056.5,224.68 1062.5,222.95 1069.5,220.80 1075.5,218.12 1081.5,215.33 1088.5,212.97 1094.5,210.52 1100.5,208.02 1107.5,204.97 1113.5,201.84 1119.5,198.79 1126.5,196.10 1132.5,193.14 1138.5,189.59 1145.5,185.96 1151.5,181.89 1157.5,178.68 1164.5,175.14 1170.5,170.91" fill="none" stroke="#3f51c4" stroke-width="3" stroke-linejoin="round" stroke-linecap="butt" opacity="0.93"/>
</g>
<g shape-rendering="crispEdges">
<rect x="2" y="67" width="1353" height="1" fill="#4a5b67"/>
</g>
<polygon points="1354.5,67.5 1362,59 1414,59 1414,76 1362,76" fill="#44545f"/>
<text x="1366" y="71.8" class="ax" style="fill:#fff;stroke:#fff">4099.09</text>
<g shape-rendering="crispEdges">
<rect x="1358" y="54" width="6" height="1" fill="#3b4a54"/>
<rect x="1358" y="90" width="6" height="1" fill="#3b4a54"/>
<rect x="1358" y="127" width="6" height="1" fill="#3b4a54"/>
<rect x="1358" y="163" width="6" height="1" fill="#3b4a54"/>
<rect x="1358" y="200" width="6" height="1" fill="#3b4a54"/>
<rect x="1358" y="236" width="6" height="1" fill="#3b4a54"/>
<rect x="1358" y="273" width="6" height="1" fill="#3b4a54"/>
<rect x="1358" y="309" width="6" height="1" fill="#3b4a54"/>
<rect x="1358" y="346" width="6" height="1" fill="#3b4a54"/>
<rect x="1358" y="382" width="6" height="1" fill="#3b4a54"/>
<rect x="1358" y="418" width="6" height="1" fill="#3b4a54"/>
<rect x="1358" y="497" width="6" height="1" fill="#3b4a54"/>
<rect x="1358" y="554" width="6" height="1" fill="#3b4a54"/>
</g>
<text x="1366" y="57.9" class="ax">4149.18</text>
<text x="1366" y="94.9" class="ax">4001.27</text>
<text x="1366" y="130.9" class="ax">3853.37</text>
<text x="1366" y="167.9" class="ax">3705.46</text>
<text x="1366" y="203.9" class="ax">3557.56</text>
<text x="1366" y="240.9" class="ax">3409.65</text>
<text x="1366" y="276.9" class="ax">3261.75</text>
<text x="1366" y="313.9" class="ax">3113.84</text>
<text x="1366" y="349.9" class="ax">2965.94</text>
<text x="1366" y="385.9" class="ax">2818.03</text>
<text x="1366" y="422.9" class="ax">2670.13</text>
<text x="1366" y="454" class="ax">2522.22</text>
<g shape-rendering="crispEdges">
<rect x="3" y="454" width="1421" height="1" fill="#4a5b67"/>
<rect x="713" y="453" width="12" height="4" fill="#000"/>
<rect x="714" y="454" width="10" height="2" fill="#e2e2e2"/>
</g>
<text x="1366" y="466" class="ax">100.0</text>
<text x="1366" y="501.8" class="ax">70.0</text>
<text x="1366" y="559.9" class="ax">30.0</text>
<text x="1366" y="598" class="ax">0.0</text>
<text x="1299.7" y="440" font-size="14" textLength="57.5" lengthAdjust="spacingAndGlyphs" stroke-width=".4"><tspan fill="#e8820c" stroke="#e8820c">06</tspan><tspan fill="#a9b1b6" stroke="#a9b1b6">h</tspan><tspan fill="#e8820c" stroke="#e8820c"> 54</tspan><tspan fill="#a9b1b6" stroke="#a9b1b6">m</tspan></text>
<ellipse cx="380" cy="490.5" rx="25.6" ry="15.1" fill="#e8a030" fill-opacity="0.115"/>
<ellipse cx="1152" cy="480.5" rx="25.6" ry="15.1" fill="#e8a030" fill-opacity="0.115"/>
<polyline points="6.5,510.7 12.5,505.8 18.5,507.2 24.5,499.9 31.5,498.7 37.5,495.7 43.5,491.0 50.5,487.7 56.5,492.9 62.5,491.9 69.5,484.4 75.5,489.8 81.5,488.6 88.5,485.6 94.5,503.1 100.5,499.9 107.5,495.0 113.5,495.0 119.5,494.0 126.5,495.9 132.5,492.9 138.5,507.9 145.5,507.9 151.5,520.2 157.5,526.9 164.5,517.8 170.5,511.8 176.5,511.8 183.5,514.9 189.5,514.9 195.5,523.0 202.5,515.0 208.5,510.1 214.5,500.6 221.5,502.0 227.5,499.2 233.5,494.0 240.5,490.8 246.5,492.9 252.5,501.7 259.5,505.9 265.5,503.8 271.5,505.1 278.5,497.1 284.5,492.2 290.5,487.7 297.5,491.9 303.5,488.6 309.5,495.7 316.5,519.5 322.5,531.7 328.5,531.7 335.5,512.5 341.5,500.1 347.5,495.7 354.5,501.0 360.5,499.2 366.5,488.6 373.5,492.9 379.5,485.8 385.5,493.8 392.5,510.1 398.5,503.8 404.5,510.8 411.5,506.9 417.5,510.8 423.5,514.6 430.5,522.0 436.5,523.0 442.5,512.8 449.5,503.4 455.5,512.5 461.5,519.8 467.5,517.0 474.5,527.6 480.5,525.8 486.5,532.8 493.5,526.8 499.5,530.7 505.5,527.2 512.5,520.9 518.5,518.8 524.5,520.9 531.5,514.9 537.5,516.7 543.5,521.9 550.5,523.7 556.5,519.8 562.5,523.0 569.5,514.0 575.5,517.8 581.5,515.7 588.5,518.1 594.5,523.7 600.5,521.9 607.5,523.0 613.5,518.1 619.5,513.9 626.5,508.7 632.5,516.7 638.5,515.7 645.5,519.8 651.5,519.8 657.5,520.9 664.5,519.8 670.5,528.9 676.5,526.9 683.5,527.9 689.5,538.0 695.5,531.0 702.5,523.7 708.5,520.9 714.5,526.9 721.5,524.8 727.5,524.8 733.5,531.8 740.5,530.0 746.5,526.8 752.5,519.8 759.5,523.1 765.5,527.9 771.5,521.9 778.5,524.0 784.5,522.0 790.5,512.2 797.5,505.9 803.5,517.8 809.5,521.6 816.5,527.9 822.5,533.1 828.5,530.0 835.5,540.1 841.5,535.9 847.5,521.9 854.5,518.8 860.5,517.8 866.5,520.9 873.5,515.7 879.5,514.9 885.5,527.9 892.5,526.9 898.5,525.1 904.5,530.0 910.5,528.9 917.5,530.0 923.5,533.9 929.5,525.8 936.5,527.9 942.5,518.8 948.5,520.9 955.5,514.9 961.5,514.2 967.5,510.1 974.5,502.7 980.5,498.9 986.5,490.8 993.5,487.7 999.5,492.9 1005.5,487.0 1012.5,483.7 1018.5,487.0 1024.5,484.7 1031.5,487.9 1037.5,487.0 1043.5,483.0 1050.5,481.9 1056.5,491.9 1062.5,499.2 1069.5,492.2 1075.5,485.8 1081.5,484.9 1088.5,494.0 1094.5,492.2 1100.5,490.0 1107.5,483.7 1113.5,481.8 1119.5,480.7 1126.5,483.7 1132.5,482.1 1138.5,476.8 1145.5,474.0 1151.5,471.5 1157.5,490.1 1164.5,486.6 1170.5,481.6" fill="none" stroke="#0f8cf5" stroke-width="2.1" stroke-linejoin="round"/>
<ellipse cx="380" cy="490.5" rx="25.6" ry="15.1" fill="none" stroke="#e8923a" stroke-width="1.1"/>
<ellipse cx="1152" cy="480.5" rx="25.6" ry="15.1" fill="none" stroke="#e8923a" stroke-width="1.1"/>
<path fill="#c6c6c6" fill-opacity="0.6" d="M5.7 408.20h10.5v2h-3.2v0.7h3.2v2.9h-10.5z M5.7 415.10h10.5v1.9h-10.5z"/><g stroke="#c6c6c6" stroke-opacity="0.6" stroke-width="2.8" stroke-linecap="butt"><path d="M20.5 409.10 L27.6 416.30 M27.6 409.10 L20.5 416.30"/></g>
<text y="418.7" class="lg"><tspan x="30.6">EMA</tspan><tspan x="56.0">[200,</tspan><tspan x="83.1">0]</tspan><tspan x="95.5">3281.86</tspan></text><text y="418.7" class="lg2"><tspan x="30.6">EMA</tspan><tspan x="56.0">[200,</tspan><tspan x="83.1">0]</tspan><tspan x="95.5">3281.86</tspan></text>
<path fill="#c6c6c6" fill-opacity="0.6" d="M5.7 422.20h10.5v2h-3.2v0.7h3.2v2.9h-10.5z M5.7 429.10h10.5v1.9h-10.5z"/><g stroke="#c6c6c6" stroke-opacity="0.6" stroke-width="2.8" stroke-linecap="butt"><path d="M20.5 423.10 L27.6 430.30 M27.6 423.10 L20.5 430.30"/></g>
<text y="432.7" class="lg"><tspan x="30.6">EMA</tspan><tspan x="56.0">[100,</tspan><tspan x="83.1">0]</tspan><tspan x="95.5">3512.03</tspan></text><text y="432.7" class="lg2"><tspan x="30.6">EMA</tspan><tspan x="56.0">[100,</tspan><tspan x="83.1">0]</tspan><tspan x="95.5">3512.03</tspan></text>
<path fill="#c6c6c6" fill-opacity="0.6" d="M5.7 436.20h10.5v2h-3.2v0.7h3.2v2.9h-10.5z M5.7 443.10h10.5v1.9h-10.5z"/><g stroke="#c6c6c6" stroke-opacity="0.6" stroke-width="2.8" stroke-linecap="butt"><path d="M20.5 437.10 L27.6 444.30 M27.6 437.10 L20.5 444.30"/></g>
<text y="446.7" class="lg"><tspan x="30.6">EMA</tspan><tspan x="56.0">[50,</tspan><tspan x="77.3">0]</tspan><tspan x="89.6">3676.72</tspan></text><text y="446.7" class="lg2"><tspan x="30.6">EMA</tspan><tspan x="56.0">[50,</tspan><tspan x="77.3">0]</tspan><tspan x="89.6">3676.72</tspan></text>
<path fill="#c6c6c6" fill-opacity="0.6" d="M5.7 584.70h10.5v2h-3.2v0.7h3.2v2.9h-10.5z M5.7 591.60h10.5v1.9h-10.5z"/><g stroke="#c6c6c6" stroke-opacity="0.6" stroke-width="2.8" stroke-linecap="butt"><path d="M20.5 585.60 L27.6 592.80 M27.6 585.60 L20.5 592.80"/></g>
<text y="595.2" class="lg"><tspan x="30.7">RSI</tspan><tspan x="50.4">[14]</tspan><tspan x="71.8">80.8</tspan></text><text y="595.2" class="lg2"><tspan x="30.7">RSI</tspan><tspan x="50.4">[14]</tspan><tspan x="71.8">80.8</tspan></text>
<g shape-rendering="crispEdges">
<rect x="6" y="597" width="1" height="4" fill="#3b4a54"/>
<rect x="138" y="597" width="1" height="4" fill="#3b4a54"/>
<rect x="271" y="597" width="1" height="4" fill="#3b4a54"/>
<rect x="404" y="597" width="1" height="4" fill="#3b4a54"/>
<rect x="537" y="597" width="1" height="4" fill="#3b4a54"/>
<rect x="670" y="597" width="1" height="4" fill="#3b4a54"/>
<rect x="803" y="597" width="1" height="4" fill="#3b4a54"/>
<rect x="936" y="597" width="1" height="4" fill="#3b4a54"/>
<rect x="1069" y="597" width="1" height="4" fill="#3b4a54"/>
<rect x="1202" y="597" width="1" height="4" fill="#3b4a54"/>
<rect x="1335" y="597" width="1" height="4" fill="#3b4a54"/>
</g>
<text x="6.4" y="611" class="ax" textLength="60.4" lengthAdjust="spacingAndGlyphs">27.01.2025</text>
<text x="139.3" y="611" class="ax" textLength="60.4" lengthAdjust="spacingAndGlyphs">25.02.2025</text>
<text x="272.2" y="611" class="ax" textLength="60.4" lengthAdjust="spacingAndGlyphs">26.03.2025</text>
<text x="405.1" y="611" class="ax" textLength="60.4" lengthAdjust="spacingAndGlyphs">25.04.2025</text>
<text x="538.0" y="611" class="ax" textLength="60.4" lengthAdjust="spacingAndGlyphs">26.05.2025</text>
<text x="670.9" y="611" class="ax" textLength="60.4" lengthAdjust="spacingAndGlyphs">24.06.2025</text>
<text x="803.8" y="611" class="ax" textLength="60.4" lengthAdjust="spacingAndGlyphs">23.07.2025</text>
<text x="936.7" y="611" class="ax" textLength="60.4" lengthAdjust="spacingAndGlyphs">21.08.2025</text>
<text x="1069.6" y="611" class="ax" textLength="60.4" lengthAdjust="spacingAndGlyphs">19.09.2025</text>
<text x="1202.5" y="611" class="ax" textLength="60.4" lengthAdjust="spacingAndGlyphs">20.10.2025</text>
<text x="1335.4" y="611" class="ax" textLength="60.4" lengthAdjust="spacingAndGlyphs">19.11.2025</text>
<path d="M10 32 V11 a3 3 0 0 1 3 -3 H169 a3 3 0 0 1 3 3 V32 Z" fill="#141d22"/>
<rect x="122" y="10" width="44" height="17" rx="2" fill="#151f24"/>
<text x="19.9" y="23.4" font-size="13" font-weight="bold" fill="#e4e4e4" stroke="#e4e4e4" stroke-width=".45" textLength="30.7" lengthAdjust="spacingAndGlyphs">GOLD</text>
<text x="54.5" y="22.2" font-size="8.6" font-weight="bold" fill="#9ab0bb" stroke="#9ab0bb" stroke-width=".3" textLength="15" lengthAdjust="spacingAndGlyphs">CFD</text>
<polygon points="78,15 86.2,15 82.1,19.3" fill="#dedede"/>
<text x="126.9" y="24.4" font-size="10.3" font-weight="bold" fill="#e0e0e0" stroke="#e0e0e0" stroke-width=".3" textLength="11.6" lengthAdjust="spacingAndGlyphs">D1</text>
<polygon points="154,17 162.2,17 158.1,21.3" fill="#dedede"/>
</svg></body></html>
